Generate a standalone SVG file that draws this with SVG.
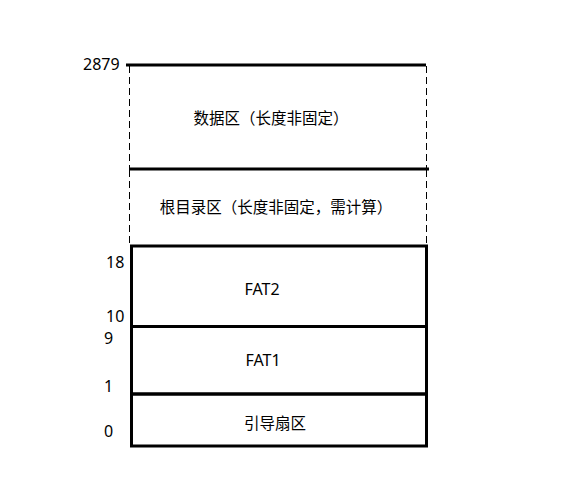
<svg xmlns="http://www.w3.org/2000/svg" width="578" height="502" viewBox="0 0 578 502">
<style>
.thick{stroke:#000;stroke-width:3;fill:none}
.dash{stroke:#000;stroke-width:1;stroke-dasharray:7 4;fill:none}
.t{font-family:"Noto Sans CJK SC","Noto Sans",sans-serif;font-size:15.5px;fill:#000;text-anchor:middle}
.f{font-family:"Noto Sans","Liberation Sans",sans-serif;font-size:16px;fill:#000;text-anchor:middle}
.n{font-family:"Noto Sans","Liberation Sans",sans-serif;font-size:16px;fill:#000}
</style>
<rect width="578" height="502" fill="#fff"/>
<g id="data-region">
<line class="thick" x1="126" y1="65" x2="426" y2="65"/>
<line class="dash" x1="129.5" y1="66" x2="129.5" y2="168"/>
<line class="dash" x1="426.5" y1="66" x2="426.5" y2="168"/>
<text class="t" x="271" y="124">数据区（长度非固定）</text>
</g>
<g id="root-dir">
<line class="thick" x1="129" y1="169" x2="429" y2="169"/>
<line class="dash" x1="129.5" y1="170" x2="129.5" y2="245"/>
<line class="dash" x1="426.5" y1="170" x2="426.5" y2="245"/>
<text class="t" x="276" y="213">根目录区（长度非固定，需计算）</text>
</g>
<g id="fat2">
<rect class="thick" x="131.5" y="246" width="295" height="80.5"/>
<text class="f" x="262" y="295">FAT2</text>
</g>
<g id="fat1">
<rect class="thick" x="131.5" y="326.5" width="295" height="67.5"/>
<text class="f" x="263" y="366">FAT1</text>
</g>
<g id="boot">
<rect class="thick" x="131.5" y="394" width="295" height="52"/>
<text class="t" x="275" y="429">引导扇区</text>
</g>
<g id="labels">
<text class="n" x="83" y="70">2879</text>
<text class="n" x="106" y="268">18</text>
<text class="n" x="106" y="321.5">10</text>
<text class="n" x="104" y="344">9</text>
<text class="n" x="104" y="392">1</text>
<text class="n" x="104" y="437">0</text>
</g>
<g id="connectors"></g>
</svg>
